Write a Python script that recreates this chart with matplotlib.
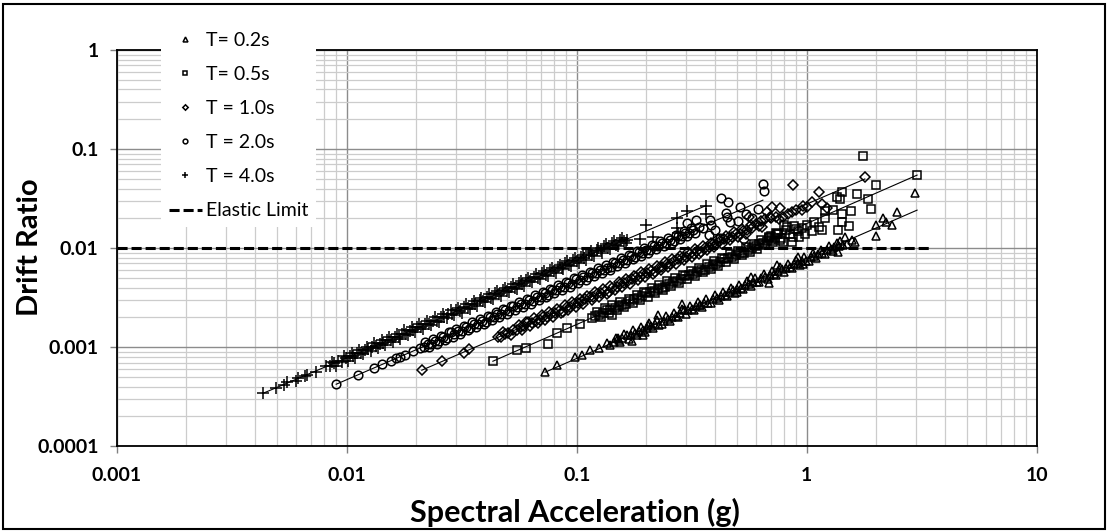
import numpy as np
import matplotlib.pyplot as plt
from matplotlib import ticker
from matplotlib.patches import Rectangle

# T = 0.2 s
sa_t02 = [0.0728, 0.0823, 0.0982, 0.105, 0.114, 0.125, 0.135, 0.140, 0.151, 0.174,
          0.194, 0.204, 0.226, 0.287, 0.343, 0.497, 0.570, 0.686, 0.742, 0.913,
          0.963, 1.37, 0.145, 0.152, 0.158, 0.165, 0.172, 0.179, 0.187, 0.195,
          0.203, 0.211, 0.220, 0.229, 0.239, 0.249, 0.259, 0.270, 0.281, 0.293,
          0.305, 0.318, 0.331, 0.345, 0.359, 0.374, 0.390, 0.406, 0.423, 0.441,
          0.459, 0.478, 0.498, 0.519, 0.540, 0.563, 0.586, 0.610, 0.636, 0.662,
          0.690, 0.718, 0.748, 0.779, 0.812, 0.845, 0.880, 0.917, 0.955, 0.995,
          1.04, 1.08, 1.12, 1.17, 1.22, 1.27, 1.32, 1.38, 1.44, 2.97,
          2.47, 2.15, 2.34, 2.01, 2.01, 2.22, 1.46, 1.57, 1.62, 1.50,
          1.40]
dr_t02 = [0.000559, 0.000658, 0.000793, 0.00083, 0.000933, 0.00098, 0.00110, 0.00106, 0.00123, 0.00115,
          0.00132, 0.00167, 0.00210, 0.00272, 0.00266, 0.00360, 0.00510, 0.00443, 0.00673, 0.00811,
          0.00689, 0.00912, 0.00113, 0.00117, 0.00123, 0.00132, 0.00134, 0.00138, 0.00146, 0.00150,
          0.00158, 0.00163, 0.00172, 0.00169, 0.00186, 0.00192, 0.00202, 0.00208, 0.00219, 0.00235,
          0.00238, 0.00245, 0.00258, 0.00266, 0.00280, 0.00277, 0.00304, 0.00313, 0.00330, 0.00340,
          0.00358, 0.00382, 0.00388, 0.00400, 0.00421, 0.00434, 0.00457, 0.00452, 0.00496, 0.00510,
          0.00538, 0.00553, 0.00583, 0.00622, 0.00633, 0.00651, 0.00686, 0.00706, 0.00745, 0.00740,
          0.00810, 0.00832, 0.00880, 0.00900, 0.00950, 0.00980, 0.0103, 0.0106, 0.0107, 0.0360,
          0.0231, 0.0201, 0.0171, 0.0171, 0.0132, 0.0184, 0.0129, 0.0120, 0.0115, 0.0110,
          0.0118]
sa_t02_b = [0.148, 0.155, 0.161, 0.168, 0.175, 0.183, 0.191, 0.199, 0.207, 0.215,
            0.224, 0.234, 0.244, 0.254, 0.264, 0.275, 0.287, 0.299, 0.311, 0.324,
            0.338, 0.352, 0.366, 0.382, 0.398, 0.414, 0.432, 0.450, 0.468, 0.488,
            0.508, 0.529, 0.551, 0.574, 0.598, 0.623, 0.649, 0.676, 0.704, 0.733,
            0.763, 0.795, 0.828, 0.862, 0.898, 0.935, 0.975, 1.02, 1.06, 1.10,
            1.15, 1.20, 1.25, 1.30, 1.35]
dr_t02_b = [0.00124, 0.00113, 0.00136, 0.00122, 0.00148, 0.00133, 0.00161, 0.00144, 0.00174, 0.00156,
            0.00189, 0.00170, 0.00205, 0.00184, 0.00222, 0.00200, 0.00242, 0.00217, 0.00262, 0.00235,
            0.00285, 0.00256, 0.00308, 0.00277, 0.00335, 0.00300, 0.00364, 0.00326, 0.00394, 0.00354,
            0.00428, 0.00384, 0.00464, 0.00417, 0.00503, 0.00452, 0.00547, 0.00490, 0.00593, 0.00532,
            0.00643, 0.00577, 0.00698, 0.00625, 0.00756, 0.00678, 0.00822, 0.00740, 0.00893, 0.00798,
            0.00969, 0.00870, 0.0105, 0.00942, 0.0113]

# T = 0.5 s
sa_t05 = [0.0432, 0.0549, 0.0603, 0.0750, 0.0822, 0.0908, 0.1033, 0.1166, 0.142, 0.120,
          0.125, 0.130, 0.135, 0.140, 0.146, 0.152, 0.158, 0.164, 0.171, 0.178,
          0.185, 0.192, 0.200, 0.208, 0.216, 0.225, 0.234, 0.243, 0.253, 0.263,
          0.274, 0.285, 0.296, 0.308, 0.320, 0.333, 0.346, 0.360, 0.375, 0.390,
          0.405, 0.421, 0.438, 0.456, 0.474, 0.493, 0.513, 0.533, 0.554, 0.576,
          0.599, 0.623, 0.648, 0.674, 0.701, 0.729, 1.76, 2.01, 1.65, 1.43,
          1.35, 1.40, 1.84, 1.90, 1.56, 1.43, 1.20, 1.30, 1.43, 1.52,
          1.37, 1.16, 1.20, 0.818, 0.871, 0.788, 0.733, 0.684, 0.800, 0.766,
          1.13, 0.864, 0.930, 0.980, 1.05, 3.02, 0.700, 0.750, 0.900, 1.00,
          1.08, 0.950]
dr_t05 = [0.000722, 0.000933, 0.00099, 0.00109, 0.00138, 0.00155, 0.00173, 0.00196, 0.00210, 0.00205,
          0.00212, 0.00222, 0.00238, 0.00240, 0.00248, 0.00260, 0.00269, 0.00270, 0.00291, 0.00305,
          0.00315, 0.00330, 0.00355, 0.00357, 0.00369, 0.00386, 0.00400, 0.00402, 0.00433, 0.00453,
          0.00469, 0.00491, 0.00528, 0.00531, 0.00550, 0.00575, 0.00595, 0.00600, 0.00645, 0.00675,
          0.00699, 0.00730, 0.00785, 0.00792, 0.00821, 0.00858, 0.00890, 0.00900, 0.00963, 0.0100,
          0.0104, 0.0109, 0.0113, 0.0118, 0.0121, 0.0127, 0.0850, 0.0433, 0.0351, 0.0368,
          0.0327, 0.0313, 0.0313, 0.0248, 0.0237, 0.0220, 0.0237, 0.0242, 0.0183, 0.0167,
          0.0152, 0.0152, 0.0201, 0.0163, 0.0129, 0.0115, 0.0142, 0.0126, 0.0171, 0.0120,
          0.0163, 0.0115, 0.0130, 0.0140, 0.0150, 0.0546, 0.0133, 0.0138, 0.0155, 0.0170,
          0.0185, 0.0160]
sa_t05_b = [0.122, 0.128, 0.133, 0.138, 0.143, 0.149, 0.155, 0.161, 0.168, 0.175,
            0.182, 0.189, 0.196, 0.204, 0.212, 0.220, 0.229, 0.238, 0.248, 0.258,
            0.268, 0.279, 0.290, 0.302, 0.314, 0.326, 0.339, 0.353, 0.367, 0.382,
            0.397, 0.413, 0.429, 0.447, 0.465, 0.483, 0.503, 0.523, 0.543, 0.565,
            0.588, 0.611, 0.635, 0.661, 0.687, 0.715, 0.743, 0.773, 0.810, 0.850,
            0.880, 0.920]
dr_t05_b = [0.00225, 0.00203, 0.00246, 0.00219, 0.00264, 0.00237, 0.00286, 0.00256, 0.00310, 0.00278,
            0.00336, 0.00300, 0.00362, 0.00325, 0.00392, 0.00350, 0.00425, 0.00381, 0.00461, 0.00413,
            0.00498, 0.00446, 0.00539, 0.00483, 0.00586, 0.00525, 0.00633, 0.00568, 0.00686, 0.00615,
            0.00742, 0.00664, 0.00801, 0.00719, 0.00874, 0.00781, 0.00945, 0.00846, 0.0102, 0.00914,
            0.0110, 0.00986, 0.0120, 0.0108, 0.0130, 0.0116, 0.0140, 0.0126, 0.0153, 0.0139,
            0.0166, 0.0150]

# T = 1.0 s
sa_t10 = [0.0212, 0.0259, 0.0323, 0.0341, 0.0455, 0.0470, 0.0486, 0.0505, 0.0529, 0.0548,
          0.0570, 0.0592, 0.0615, 0.0639, 0.0664, 0.0690, 0.0717, 0.0745, 0.0774, 0.0805,
          0.0836, 0.0869, 0.0903, 0.0938, 0.0975, 0.101, 0.105, 0.109, 0.114, 0.118,
          0.123, 0.128, 0.133, 0.138, 0.143, 0.149, 0.155, 0.161, 0.167, 0.174,
          0.181, 0.188, 0.195, 0.203, 0.211, 0.219, 0.227, 0.236, 0.246, 0.255,
          0.265, 0.276, 0.287, 0.298, 0.310, 0.322, 0.335, 0.348, 0.361, 0.375,
          0.390, 0.405, 0.421, 0.438, 0.455, 0.473, 0.492, 0.511, 0.531, 0.552,
          0.871, 0.766, 0.709, 0.675, 0.736, 0.788, 0.864, 1.13, 0.963, 1.16,
          1.23, 1.79, 0.563, 0.535, 0.600, 0.630, 0.580, 0.660, 0.700, 0.830,
          0.900, 1.00, 1.05, 0.620]
dr_t10 = [0.000586, 0.000722, 0.00087, 0.000955, 0.00126, 0.00128, 0.00136, 0.00138, 0.00148, 0.00150,
          0.00160, 0.00162, 0.00178, 0.00175, 0.00186, 0.00189, 0.00201, 0.00204, 0.00217, 0.00220,
          0.00234, 0.00229, 0.00253, 0.00257, 0.00273, 0.00277, 0.00294, 0.00310, 0.00319, 0.00323,
          0.00345, 0.00350, 0.00372, 0.00365, 0.00400, 0.00408, 0.00434, 0.00441, 0.00468, 0.00492,
          0.00507, 0.00515, 0.00546, 0.00556, 0.00591, 0.00580, 0.00636, 0.00646, 0.00689, 0.00698,
          0.00742, 0.00780, 0.00804, 0.00816, 0.00868, 0.00882, 0.00938, 0.00920, 0.0101, 0.0103,
          0.0109, 0.0111, 0.0118, 0.0124, 0.0127, 0.0130, 0.0138, 0.0140, 0.0149, 0.0151,
          0.0433, 0.0254, 0.0260, 0.0231, 0.0206, 0.0206, 0.0231, 0.0368, 0.0266, 0.0278,
          0.0254, 0.0521, 0.0206, 0.0120, 0.0175, 0.0190, 0.0160, 0.0195, 0.0200, 0.0222,
          0.0240, 0.0258, 0.0290, 0.0168]
sa_t10_b = [0.0480, 0.0517, 0.0560, 0.0581, 0.0603, 0.0627, 0.0652, 0.0677, 0.0704, 0.0731,
            0.0760, 0.0790, 0.0820, 0.0852, 0.0886, 0.0920, 0.0956, 0.0993, 0.103, 0.107,
            0.111, 0.116, 0.120, 0.125, 0.130, 0.135, 0.140, 0.146, 0.152, 0.158,
            0.164, 0.170, 0.177, 0.184, 0.191, 0.199, 0.207, 0.215, 0.223, 0.232,
            0.241, 0.250, 0.260, 0.270, 0.281, 0.292, 0.304, 0.316, 0.328, 0.341,
            0.354, 0.368, 0.382, 0.397, 0.413, 0.429, 0.446, 0.464, 0.482, 0.501,
            0.521, 0.542, 0.575, 0.640, 0.690, 0.760, 0.950]
dr_t10_b = [0.00144, 0.00133, 0.00168, 0.00150, 0.00180, 0.00162, 0.00195, 0.00174, 0.00211, 0.00188,
            0.00227, 0.00203, 0.00245, 0.00219, 0.00265, 0.00237, 0.00286, 0.00256, 0.00308, 0.00275,
            0.00332, 0.00299, 0.00359, 0.00322, 0.00389, 0.00348, 0.00419, 0.00376, 0.00455, 0.00407,
            0.00491, 0.00438, 0.00529, 0.00474, 0.00571, 0.00513, 0.00619, 0.00554, 0.00667, 0.00598,
            0.00721, 0.00644, 0.00778, 0.00696, 0.00841, 0.00752, 0.00909, 0.00814, 0.00981, 0.00879,
            0.0106, 0.00948, 0.0114, 0.0102, 0.0124, 0.0110, 0.0133, 0.0120, 0.0144, 0.0129,
            0.0156, 0.0140, 0.0172, 0.0165, 0.0206, 0.0196, 0.0245]

# T = 2.0 s
sa_t20 = [0.0090, 0.0112, 0.0132, 0.0142, 0.0156, 0.0164, 0.0171, 0.0179, 0.0194, 0.0208,
          0.0216, 0.0225, 0.0233, 0.0242, 0.0252, 0.0262, 0.0272, 0.0283, 0.0294, 0.0306,
          0.0318, 0.0331, 0.0344, 0.0358, 0.0372, 0.0387, 0.0402, 0.0418, 0.0435, 0.0452,
          0.0470, 0.0489, 0.0509, 0.0529, 0.0550, 0.0572, 0.0595, 0.0619, 0.0644, 0.0670,
          0.0697, 0.0725, 0.0754, 0.0784, 0.0815, 0.0848, 0.0882, 0.0917, 0.0954, 0.0992,
          0.103, 0.107, 0.112, 0.116, 0.121, 0.126, 0.131, 0.136, 0.141, 0.147,
          0.153, 0.159, 0.165, 0.172, 0.179, 0.186, 0.193, 0.201, 0.209, 0.217,
          0.226, 0.235, 0.244, 0.254, 0.264, 0.275, 0.286, 0.297, 0.309, 0.321,
          0.302, 0.330, 0.379, 0.382, 0.375, 0.425, 0.455, 0.445, 0.450, 0.400,
          0.464, 0.503, 0.513, 0.545, 0.580, 0.617, 0.648, 0.654, 0.420, 0.340,
          0.355]
dr_t20 = [0.000423, 0.000526, 0.00062, 0.00067, 0.00073, 0.00077, 0.00080, 0.00084, 0.00091, 0.00098,
          0.00101, 0.00108, 0.00107, 0.00116, 0.00116, 0.00126, 0.00125, 0.00141, 0.00135, 0.00147,
          0.00146, 0.00159, 0.00158, 0.00172, 0.00171, 0.00186, 0.00179, 0.00201, 0.00200, 0.00217,
          0.00216, 0.00235, 0.00234, 0.00262, 0.00253, 0.00275, 0.00274, 0.00298, 0.00296, 0.00322,
          0.00321, 0.00349, 0.00336, 0.00377, 0.00375, 0.00408, 0.00406, 0.00441, 0.00439, 0.00492,
          0.00474, 0.00514, 0.00516, 0.00558, 0.00557, 0.00606, 0.00603, 0.00632, 0.00649, 0.00707,
          0.00704, 0.00765, 0.00759, 0.00827, 0.00823, 0.00922, 0.00888, 0.00967, 0.00961, 0.0104,
          0.0104, 0.0113, 0.0112, 0.0122, 0.0117, 0.0132, 0.0132, 0.0143, 0.0142, 0.0154,
          0.0179, 0.0192, 0.0192, 0.0171, 0.0135, 0.0320, 0.0292, 0.0226, 0.0206, 0.0152,
          0.0183, 0.0188, 0.0260, 0.0220, 0.0201, 0.0248, 0.0443, 0.0376, 0.0126, 0.0165,
          0.0158]
sa_t20_b = [0.0220, 0.0229, 0.0238, 0.0247, 0.0257, 0.0267, 0.0278, 0.0289, 0.0300, 0.0312,
            0.0325, 0.0338, 0.0351, 0.0365, 0.0380, 0.0395, 0.0410, 0.0427, 0.0444, 0.0461,
            0.0480, 0.0499, 0.0519, 0.0540, 0.0561, 0.0584, 0.0607, 0.0631, 0.0657, 0.0683,
            0.0711, 0.0739, 0.0769, 0.0800, 0.0832, 0.0865, 0.0900, 0.0935, 0.0973, 0.101,
            0.105, 0.110, 0.114, 0.119, 0.124, 0.129, 0.134, 0.139, 0.144, 0.150,
            0.156, 0.162, 0.169, 0.176, 0.183, 0.190, 0.197, 0.205, 0.213, 0.222,
            0.231, 0.240, 0.249, 0.259, 0.270, 0.281, 0.292, 0.303, 0.315, 0.328]
dr_t20_b = [0.00112, 0.00100, 0.00121, 0.00108, 0.00130, 0.00117, 0.00141, 0.00126, 0.00152, 0.00136,
            0.00165, 0.00148, 0.00178, 0.00160, 0.00193, 0.00173, 0.00208, 0.00187, 0.00225, 0.00202,
            0.00244, 0.00218, 0.00263, 0.00236, 0.00285, 0.00255, 0.00308, 0.00276, 0.00334, 0.00299,
            0.00361, 0.00323, 0.00390, 0.00350, 0.00422, 0.00378, 0.00457, 0.00409, 0.00494, 0.00441,
            0.00533, 0.00481, 0.00579, 0.00520, 0.00629, 0.00564, 0.00680, 0.00608, 0.00731, 0.00656,
            0.00792, 0.00708, 0.00858, 0.00769, 0.00929, 0.00830, 0.0100, 0.00896, 0.0108, 0.00970,
            0.0117, 0.0105, 0.0126, 0.0113, 0.0137, 0.0123, 0.0148, 0.0132, 0.0160, 0.0143]

# T = 4.0 s
sa_t40 = [0.00433, 0.00495, 0.00535, 0.00548, 0.00600, 0.00612, 0.00660, 0.00672, 0.00735, 0.00810,
          0.00845, 0.00880, 0.00915, 0.00950, 0.00990, 0.0103, 0.0107, 0.0111, 0.0115, 0.0120,
          0.0124, 0.0129, 0.0134, 0.0139, 0.0144, 0.0150, 0.0156, 0.0162, 0.0168, 0.0174,
          0.0181, 0.0188, 0.0195, 0.0203, 0.0211, 0.0219, 0.0228, 0.0237, 0.0246, 0.0256,
          0.0266, 0.0277, 0.0288, 0.0299, 0.0311, 0.0323, 0.0336, 0.0349, 0.0363, 0.0378,
          0.0393, 0.0408, 0.0425, 0.0442, 0.0459, 0.0478, 0.0497, 0.0517, 0.0537, 0.0559,
          0.0581, 0.0604, 0.0628, 0.0653, 0.0679, 0.0706, 0.0734, 0.0764, 0.0794, 0.0826,
          0.0859, 0.0893, 0.0929, 0.0966, 0.100, 0.104, 0.108, 0.113, 0.117, 0.122,
          0.127, 0.132, 0.137, 0.143, 0.148, 0.154, 0.160, 0.166, 0.188, 0.201,
          0.215, 0.272, 0.272, 0.275, 0.302, 0.364, 0.364]
dr_t40 = [0.000343, 0.00039, 0.00042, 0.00045, 0.00046, 0.00049, 0.00051, 0.00053, 0.00056, 0.00064,
          0.00065, 0.00069, 0.00073, 0.00071, 0.00078, 0.00081, 0.00082, 0.00087, 0.00088, 0.00094,
          0.00095, 0.00101, 0.00102, 0.00108, 0.00110, 0.00118, 0.00118, 0.00127, 0.00128, 0.00137,
          0.00137, 0.00147, 0.00148, 0.00161, 0.00159, 0.00173, 0.00170, 0.00186, 0.00185, 0.00201,
          0.00200, 0.00218, 0.00216, 0.00236, 0.00233, 0.00255, 0.00250, 0.00276, 0.00270, 0.00299,
          0.00292, 0.00322, 0.00315, 0.00349, 0.00342, 0.00377, 0.00368, 0.00408, 0.00398, 0.00440,
          0.00430, 0.00476, 0.00465, 0.00514, 0.00501, 0.00556, 0.00542, 0.00602, 0.00586, 0.00650,
          0.00633, 0.00702, 0.00683, 0.00758, 0.00735, 0.00818, 0.00793, 0.00888, 0.00858, 0.00958,
          0.00930, 0.0104, 0.0100, 0.0112, 0.0108, 0.0121, 0.0117, 0.0122, 0.0123, 0.0171,
          0.0129, 0.0201, 0.0159, 0.0142, 0.0237, 0.0266, 0.0220]
sa_t40_b = [0.0086, 0.0090, 0.0097, 0.0101, 0.0105, 0.0109, 0.0113, 0.0118, 0.0122, 0.0127,
            0.0132, 0.0137, 0.0142, 0.0147, 0.0153, 0.0159, 0.0165, 0.0171, 0.0178, 0.0185,
            0.0192, 0.0199, 0.0207, 0.0215, 0.0224, 0.0233, 0.0242, 0.0251, 0.0261, 0.0272,
            0.0283, 0.0294, 0.0305, 0.0317, 0.0330, 0.0343, 0.0356, 0.0370, 0.0385, 0.0400,
            0.0416, 0.0433, 0.0450, 0.0468, 0.0487, 0.0507, 0.0527, 0.0548, 0.0570, 0.0592,
            0.0616, 0.0641, 0.0666, 0.0693, 0.0720, 0.0749, 0.0779, 0.0810, 0.0842, 0.0876,
            0.0911, 0.0947, 0.0985, 0.102, 0.106, 0.110, 0.115, 0.119, 0.124, 0.129,
            0.134, 0.140, 0.145, 0.151, 0.157, 0.163]
dr_t40_b = [0.000715, 0.000644, 0.000807, 0.000723, 0.000873, 0.000781, 0.000940, 0.000845, 0.00101, 0.000909,
            0.00110, 0.000981, 0.00118, 0.00105, 0.00127, 0.00114, 0.00137, 0.00122, 0.00148, 0.00132,
            0.00160, 0.00142, 0.00172, 0.00154, 0.00186, 0.00167, 0.00201, 0.00180, 0.00217, 0.00195,
            0.00235, 0.00210, 0.00250, 0.00224, 0.00271, 0.00242, 0.00292, 0.00262, 0.00316, 0.00283,
            0.00341, 0.00306, 0.00369, 0.00331, 0.00400, 0.00358, 0.00433, 0.00387, 0.00468, 0.00418,
            0.00505, 0.00453, 0.00547, 0.00490, 0.00583, 0.00523, 0.00631, 0.00565, 0.00682, 0.00611,
            0.00738, 0.00660, 0.00798, 0.00711, 0.00859, 0.00767, 0.00932, 0.00830, 0.0100, 0.00900,
            0.0109, 0.00977, 0.0118, 0.0105, 0.0127, 0.0114]

# power trendlines (end points)
fit_sa_t02 = [0.0728, 3.02]
fit_dr_t02 = [0.000559, 0.0242]
fit_sa_t05 = [0.0432, 3.02]
fit_dr_t05 = [0.000722, 0.0546]
fit_sa_t10 = [0.0212, 1.79]
fit_dr_t10 = [0.000586, 0.0499]
fit_sa_t20 = [0.0090, 0.645]
fit_dr_t20 = [0.000423, 0.0305]
fit_sa_t40 = [0.00433, 0.364]
fit_dr_t40 = [0.000343, 0.0268]

elastic_sa = [0.001, 3.5]
elastic_dr = [0.01, 0.01]

labels = ['T= 0.2s', 'T= 0.5s', 'T = 1.0s', 'T = 2.0s', 'T = 4.0s']

plt.rcParams['font.family'] = ['Lato', 'DejaVu Sans']

W, H = 1109, 532
fig = plt.figure(figsize=(W / 100, H / 100), dpi=100)
ax = fig.add_axes([116.7 / W, 1 - 446.3 / H, 920 / W, 396.3 / H])
ax.set_xscale('log')
ax.set_yscale('log')
ax.set_xlim(0.001, 10)
ax.set_ylim(0.0001, 1)

series = [(sa_t02 + sa_t02_b, dr_t02 + dr_t02_b, fit_sa_t02, fit_dr_t02, '^', 6.4),
          (sa_t05 + sa_t05_b, dr_t05 + dr_t05_b, fit_sa_t05, fit_dr_t05, 's', 5.8),
          (sa_t10 + sa_t10_b, dr_t10 + dr_t10_b, fit_sa_t10, fit_dr_t10, 'D', 5.0),
          (sa_t20 + sa_t20_b, dr_t20 + dr_t20_b, fit_sa_t20, fit_dr_t20, 'o', 6.2),
          (sa_t40 + sa_t40_b, dr_t40 + dr_t40_b, fit_sa_t40, fit_dr_t40, '+', 8.0)]

handles = []
for (sa, dr, fsa, fdr, mk, ms), lab in zip(series, labels):
    h, = ax.plot(sa, dr, linestyle='none', marker=mk, ms=ms, mfc='none',
                 mec='black', mew=1.1, label=lab, zorder=3)
    ax.plot(fsa, fdr, color='black', lw=0.8, zorder=3)
    handles.append(h)

h, = ax.plot(elastic_sa, elastic_dr, color='black', lw=2.2,
             linestyle=(0, (3.3, 1.3)), dash_capstyle='butt',
             label='Elastic Limit', zorder=4)
handles.append(h)

# grid
ax.xaxis.set_minor_locator(ticker.LogLocator(base=10, subs=np.arange(2, 10), numticks=20))
ax.yaxis.set_minor_locator(ticker.LogLocator(base=10, subs=np.arange(2, 10), numticks=20))
ax.xaxis.set_minor_formatter(ticker.NullFormatter())
ax.yaxis.set_minor_formatter(ticker.NullFormatter())
ax.grid(which='major', color='#8c8c8c', lw=1.0)
ax.grid(which='minor', color='#cccccc', lw=0.9)
ax.set_axisbelow(True)

fmt = ticker.FuncFormatter(lambda v, p: '%g' % v)
ax.xaxis.set_major_formatter(fmt)
ax.yaxis.set_major_formatter(fmt)
ax.tick_params(which='major', direction='out', length=5, width=1, color='#808080', labelsize=14)
ax.tick_params(axis='y', pad=8)
ax.tick_params(axis='x', pad=10)
ax.tick_params(which='minor', length=0)
for t in ax.get_xticklabels() + ax.get_yticklabels():
    t.set_fontweight('bold')

for s in ax.spines.values():
    s.set_color('black')
    s.set_linewidth(1.3)

leg = ax.legend(handles=handles, loc='upper left', bbox_to_anchor=(161 / W, 1 - 24 / H),
                bbox_transform=fig.transFigure, frameon=True, fancybox=False, framealpha=1,
                facecolor='white', edgecolor='none', fontsize=14, handlelength=1.7,
                handletextpad=0.2, labelspacing=0.88, borderpad=0.4, borderaxespad=0,
                markerscale=0.55)

fig.text(30 / W, 1 - 247 / H, 'Drift Ratio', rotation=90, ha='center', va='center',
         fontsize=21, fontweight='bold')
fig.text(575 / W, 1 - 512 / H, 'Spectral Acceleration (g)', ha='center', va='center',
         fontsize=22, fontweight='bold')

fig.patches.append(Rectangle((3 / W, 3 / H), 1102 / W, 525 / H, transform=fig.transFigure,
                             fill=False, ec='black', lw=1.5))

fig.savefig('out.png', dpi=100)
